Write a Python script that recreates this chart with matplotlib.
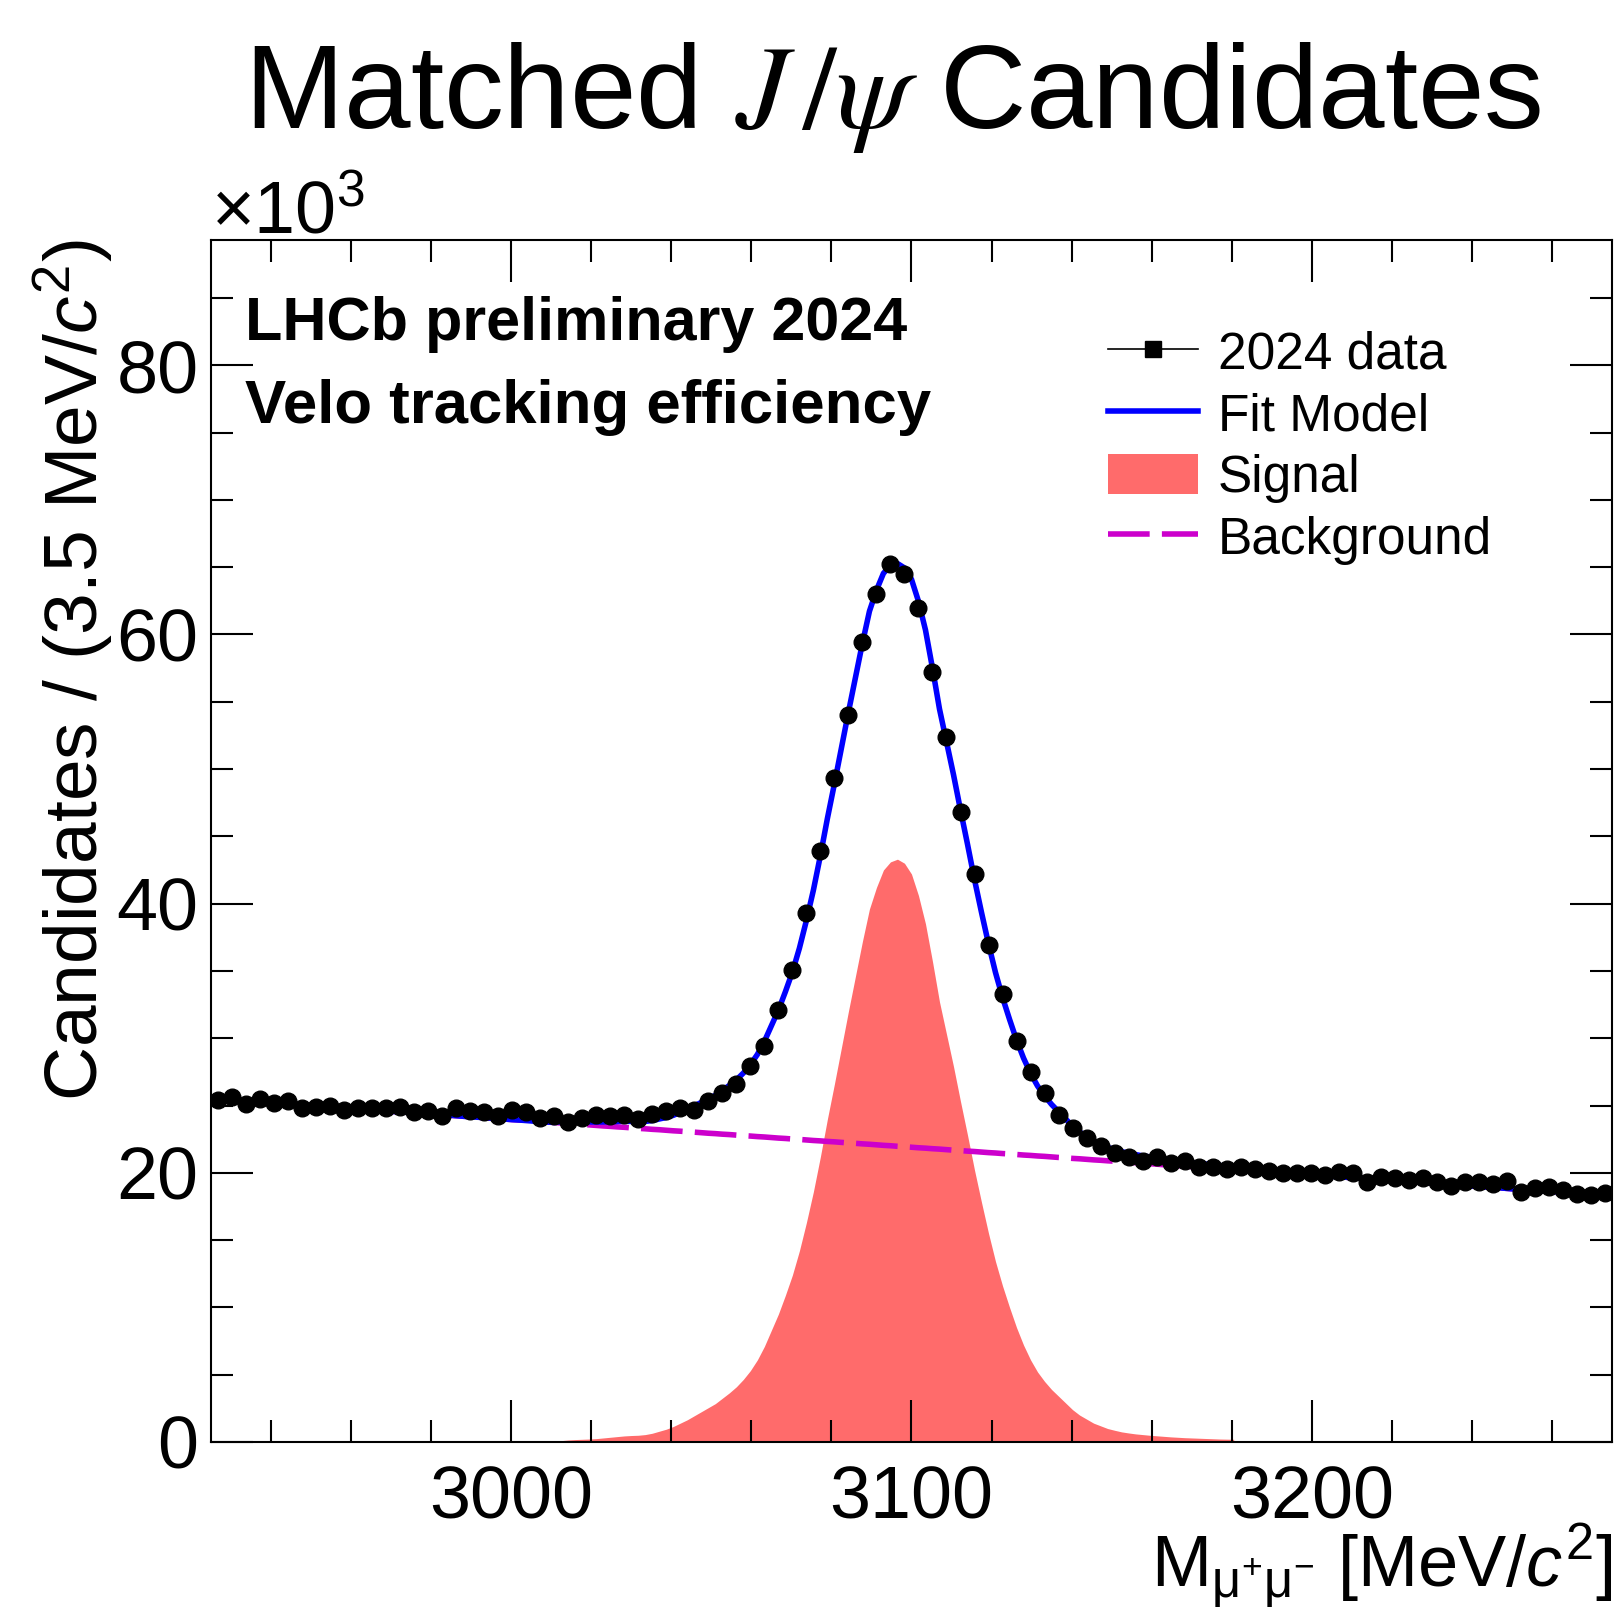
import numpy as np
import matplotlib
matplotlib.use("Agg")
from matplotlib import pyplot as plt
from matplotlib.lines import Line2D
from matplotlib.patches import Patch
from matplotlib.ticker import MultipleLocator

# binning of the mass histogram
m_lo = 2925.0
bin_w = 3.5
n_bins = 100

# candidates per bin, in units of 10^3
counts = [25.4, 25.6, 25.1, 25.5, 25.2, 25.3, 24.8, 24.9, 25.0, 24.7,
          24.8, 24.8, 24.8, 24.9, 24.5, 24.6, 24.2, 24.8, 24.6, 24.5,
          24.2, 24.7, 24.5, 24.1, 24.2, 23.8, 24.1, 24.3, 24.2, 24.3,
          24.0, 24.35, 24.6, 24.8, 24.7, 25.3, 25.9, 26.6, 27.9, 29.4,
          32.1, 35.1, 39.3, 43.9, 49.3, 54.0, 59.4, 63.0, 65.2, 64.5,
          62.0, 57.2, 52.4, 46.8, 42.2, 36.9, 33.3, 29.8, 27.5, 25.9,
          24.3, 23.3, 22.6, 22.0, 21.5, 21.2, 20.9, 21.2, 20.7, 20.9,
          20.45, 20.45, 20.25, 20.45, 20.25, 20.1, 20.0, 20.0, 19.95, 19.8,
          20.05, 20.0, 19.3, 19.7, 19.6, 19.45, 19.6, 19.3, 19.05, 19.3,
          19.3, 19.15, 19.4, 18.6, 18.85, 18.95, 18.7, 18.45, 18.35, 18.5]

# fit curves, sampled every 1.75 MeV from 2925 to 3275 (10^3)
curve_step = 1.75
background = [25.50, 25.46, 25.43, 25.39, 25.36, 25.32, 25.28, 25.25, 25.21, 25.18,
              25.14, 25.10, 25.07, 25.03, 25.00, 24.96, 24.92, 24.89, 24.85, 24.82,
              24.78, 24.74, 24.71, 24.67, 24.64, 24.60, 24.56, 24.53, 24.49, 24.46,
              24.42, 24.38, 24.35, 24.31, 24.28, 24.24, 24.20, 24.17, 24.13, 24.10,
              24.06, 24.02, 23.99, 23.95, 23.92, 23.88, 23.84, 23.81, 23.77, 23.74,
              23.70, 23.66, 23.63, 23.59, 23.56, 23.52, 23.48, 23.45, 23.41, 23.38,
              23.34, 23.30, 23.27, 23.23, 23.20, 23.16, 23.12, 23.09, 23.05, 23.02,
              22.98, 22.94, 22.91, 22.87, 22.84, 22.80, 22.76, 22.73, 22.69, 22.66,
              22.62, 22.58, 22.55, 22.51, 22.48, 22.44, 22.40, 22.37, 22.33, 22.30,
              22.26, 22.22, 22.19, 22.15, 22.12, 22.08, 22.04, 22.01, 21.97, 21.94,
              21.90, 21.86, 21.83, 21.79, 21.76, 21.72, 21.68, 21.65, 21.61, 21.58,
              21.54, 21.50, 21.47, 21.43, 21.40, 21.36, 21.32, 21.29, 21.25, 21.22,
              21.18, 21.14, 21.11, 21.07, 21.04, 21.00, 20.96, 20.93, 20.89, 20.86,
              20.82, 20.78, 20.75, 20.71, 20.68, 20.64, 20.60, 20.57, 20.53, 20.50,
              20.46, 20.42, 20.39, 20.35, 20.32, 20.28, 20.24, 20.21, 20.17, 20.14,
              20.10, 20.06, 20.03, 19.99, 19.96, 19.92, 19.88, 19.85, 19.81, 19.78,
              19.74, 19.70, 19.67, 19.63, 19.60, 19.56, 19.52, 19.49, 19.45, 19.42,
              19.38, 19.34, 19.31, 19.27, 19.24, 19.20, 19.16, 19.13, 19.09, 19.06,
              19.02, 18.98, 18.95, 18.91, 18.88, 18.84, 18.80, 18.77, 18.73, 18.70,
              18.66, 18.62, 18.59, 18.55, 18.52, 18.48, 18.44, 18.41, 18.37, 18.34,
              18.30]

# signal shape, same 1.75 MeV step, drawn from 3012.5 to 3180.5
signal_start = 3012.5
signal = [0.10, 0.15, 0.18, 0.20, 0.22, 0.25, 0.30, 0.35, 0.40, 0.45,
          0.48, 0.50, 0.55, 0.65, 0.80, 0.95, 1.15, 1.40, 1.65, 1.95,
          2.25, 2.55, 2.85, 3.25, 3.65, 4.10, 4.65, 5.30, 6.10, 7.10,
          8.30, 9.50, 10.9, 12.4, 14.2, 16.3, 18.6, 21.2, 24.0, 26.6,
          29.3, 32.0, 34.6, 37.2, 39.6, 41.2, 42.5, 43.1, 43.3, 43.0,
          42.2, 40.6, 38.5, 35.7, 32.7, 30.3, 27.9, 25.3, 22.8, 20.2,
          17.8, 15.5, 13.4, 11.6, 10.0, 8.50, 7.20, 6.10, 5.20, 4.50,
          3.90, 3.40, 2.90, 2.40, 2.00, 1.70, 1.40, 1.20, 1.00, 0.87,
          0.75, 0.67, 0.60, 0.55, 0.50, 0.46, 0.42, 0.38, 0.35, 0.32,
          0.30, 0.28, 0.26, 0.24, 0.22, 0.21, 0.20]

x_ticks = [3000, 3100, 3200]
y_ticks = [0, 20, 40, 60, 80]

SIG_COLOR = '#ff6b6b'
BKG_COLOR = '#cc00cc'
FIT_COLOR = '#0000ff'
DASH = (0, (7.5, 2.2))


def main():
    plt.rcParams['font.family'] = 'Liberation Sans'
    plt.rcParams['mathtext.fontset'] = 'custom'
    plt.rcParams['mathtext.rm'] = 'Liberation Sans'
    plt.rcParams['mathtext.it'] = 'Liberation Sans:italic'
    plt.rcParams['mathtext.bf'] = 'Liberation Sans:bold'

    edges = m_lo + bin_w * np.arange(n_bins + 1)
    centers = edges[:-1] + bin_w / 2
    y = np.array(counts)
    yerr = np.sqrt(y * 1000) / 1000

    bkg = np.array(background)
    mcurve = m_lo + curve_step * np.arange(len(bkg))
    sig_part = np.array(signal)
    i0 = int(round((signal_start - m_lo) / curve_step))
    sig = np.zeros_like(bkg)
    sig[i0:i0 + len(sig_part)] = sig_part
    total = bkg + sig
    msig = mcurve[i0:i0 + len(sig_part)]

    fig = plt.figure(figsize=(16.24, 16.09), dpi=100)
    ax = fig.add_axes([0.1299, 0.1038, 0.8627, 0.7470])

    ax.fill_between(msig, 0, sig_part, color=SIG_COLOR, lw=0, zorder=1)
    ax.plot(mcurve, bkg, color=BKG_COLOR, lw=4, ls=DASH, zorder=2)
    ax.plot(mcurve, total, color=FIT_COLOR, lw=4, zorder=3)
    ax.errorbar(centers, y, xerr=bin_w / 2, yerr=yerr, fmt='o', color='black',
                ms=12, elinewidth=2, capsize=0, zorder=4)

    ax.set_xlim(m_lo, m_lo + bin_w * n_bins)
    ax.set_ylim(0, 89.3)
    ax.set_xticks(x_ticks)
    ax.set_yticks(y_ticks)
    ax.xaxis.set_minor_locator(MultipleLocator(20))
    ax.yaxis.set_minor_locator(MultipleLocator(5))
    ax.tick_params(which='both', direction='in', top=True, right=True, width=1.5)
    ax.tick_params(which='major', length=30, labelsize=53)
    ax.tick_params(which='minor', length=16)
    ax.tick_params(axis='x', pad=16)
    ax.tick_params(axis='y', pad=9)
    for s in ax.spines.values():
        s.set_linewidth(1.5)

    ax.set_ylabel(r'Candidates / (3.5 MeV/$c^{2}$)', fontsize=54, loc='top')
    ax.yaxis.set_label_coords(-0.068, 1.0)
    ax.set_xlabel(r'M$_{\mathrm{\mu}^{+}\mathrm{\mu}^{-}}$ [MeV/$c^{2}$]',
                  fontsize=52, loc='right')
    ax.xaxis.set_label_coords(1.0, -0.066)

    fig.text(211 / 1624, 1 - 233 / 1609, r'$\times$10$^{3}$', fontsize=53,
             ha='left', va='baseline')
    fig.text(0.5496, 1 - 128 / 1609, r'Matched $J\,/\psi$ Candidates', fontsize=86,
             ha='center', va='baseline', math_fontfamily='stix')

    ax.text(0.024, 0.917, 'LHCb preliminary 2024', transform=ax.transAxes,
            fontsize=44, fontweight='bold', va='baseline')
    ax.text(0.024, 0.848, 'Velo tracking efficiency', transform=ax.transAxes,
            fontsize=44.5, fontweight='bold', va='baseline')

    handles = [Line2D([], [], color='black', lw=1.2, marker='s', ms=12),
               Line2D([], [], color=FIT_COLOR, lw=4),
               Patch(facecolor=SIG_COLOR, lw=0),
               Line2D([], [], color=BKG_COLOR, lw=4, ls=DASH)]
    labels = ['2024 data', 'Fit Model', 'Signal', 'Background']
    ax.legend(handles, labels, loc='upper left', bbox_to_anchor=(0.64, 0.925),
              frameon=False, fontsize=37, handlelength=1.75, handletextpad=0.4,
              handleheight=0.84, labelspacing=0.245, borderpad=0, borderaxespad=0)

    plt.savefig('out.png', dpi=100)


if __name__ == '__main__':
    main()
